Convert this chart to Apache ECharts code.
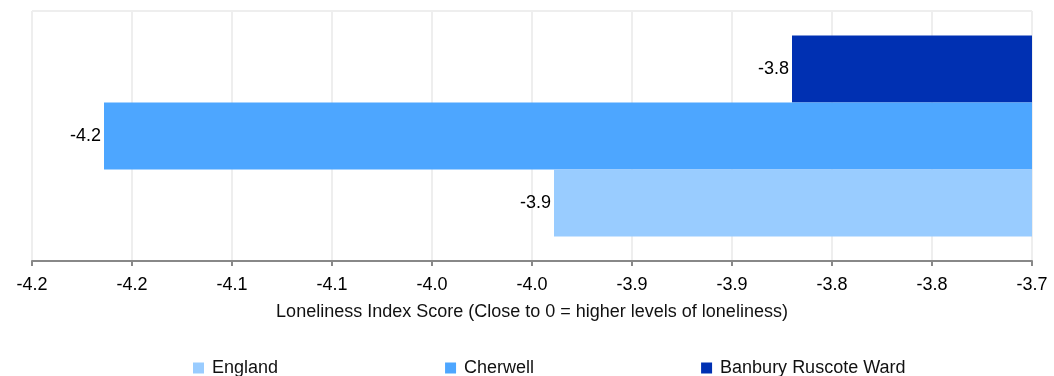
<!DOCTYPE html>
<html><head><meta charset="utf-8">
<script src="https://cdn.jsdelivr.net/npm/echarts@6/dist/echarts.min.js"></script>
<style>html,body{margin:0;padding:0;background:#fff}#c{width:1054px;height:376px}</style>
</head><body><div id="c"></div>
<script>
const categories = ['Loneliness'];
const seriesNames = ['England', 'Cherwell', 'Banbury Ruscote Ward'];
const englandValues = [-3.939];
const cherwellValues = [-4.164];
const banburyValues = [-3.82];
const tickLabels = ['-4.2','-4.2','-4.1','-4.1','-4.0','-4.0','-3.9','-3.9','-3.8','-3.8','-3.7'];
const colors = ['#99CCFF', '#4DA6FF', '#0030B2'];
const axisMin = -4.2, axisMax = -3.7, axisInterval = 0.05;

const font = 'Arial, "Liberation Sans", sans-serif';
const mk = (name, data, i) => ({
  name, type: 'bar', data, barWidth: 67, barGap: '0%',
  itemStyle: { color: colors[i] },
  label: { show: true, position: 'left', distance: 3, color: '#000', fontSize: 18, fontFamily: font,
           formatter: p => p.value.toFixed(1) }
});
const chart = echarts.init(document.getElementById('c'), null, { renderer: 'canvas' });
chart.setOption({
  animation: false,
  grid: { left: 32, right: 22, top: 11, bottom: 115 },
  xAxis: {
    type: 'value', min: axisMin, max: axisMax, interval: axisInterval,
    name: 'Loneliness Index Score (Close to 0 = higher levels of loneliness)',
    nameLocation: 'middle', nameGap: 42,
    nameTextStyle: { color: '#111', fontSize: 18, fontFamily: font },
    axisLine: { show: true, lineStyle: { color: '#888', width: 2 } },
    axisTick: { show: true, length: 5, lineStyle: { color: '#888', width: 2 } },
    axisLabel: { color: '#000', fontSize: 18, fontFamily: font, margin: 15,
      formatter: v => tickLabels[Math.round((v - axisMin) / axisInterval)] },
    splitLine: { show: true, lineStyle: { color: '#eeeeee', width: 2 } }
  },
  yAxis: {
    type: 'category', data: categories,
    axisLine: { show: false }, axisTick: { show: false }, axisLabel: { show: false },
    splitLine: { show: true, lineStyle: { color: '#eeeeee', width: 2 } }
  },
  legend: {
    data: seriesNames,
    top: 354, left: 188, itemGap: 167, itemWidth: 11, itemHeight: 11, icon: 'rect',
    textStyle: { color: '#111', fontSize: 18, fontFamily: font, padding: [0, 0, 0, 3] }
  },
  series: [mk(seriesNames[2], banburyValues, 2), mk(seriesNames[1], cherwellValues, 1), mk(seriesNames[0], englandValues, 0)]
});
</script></body></html>
